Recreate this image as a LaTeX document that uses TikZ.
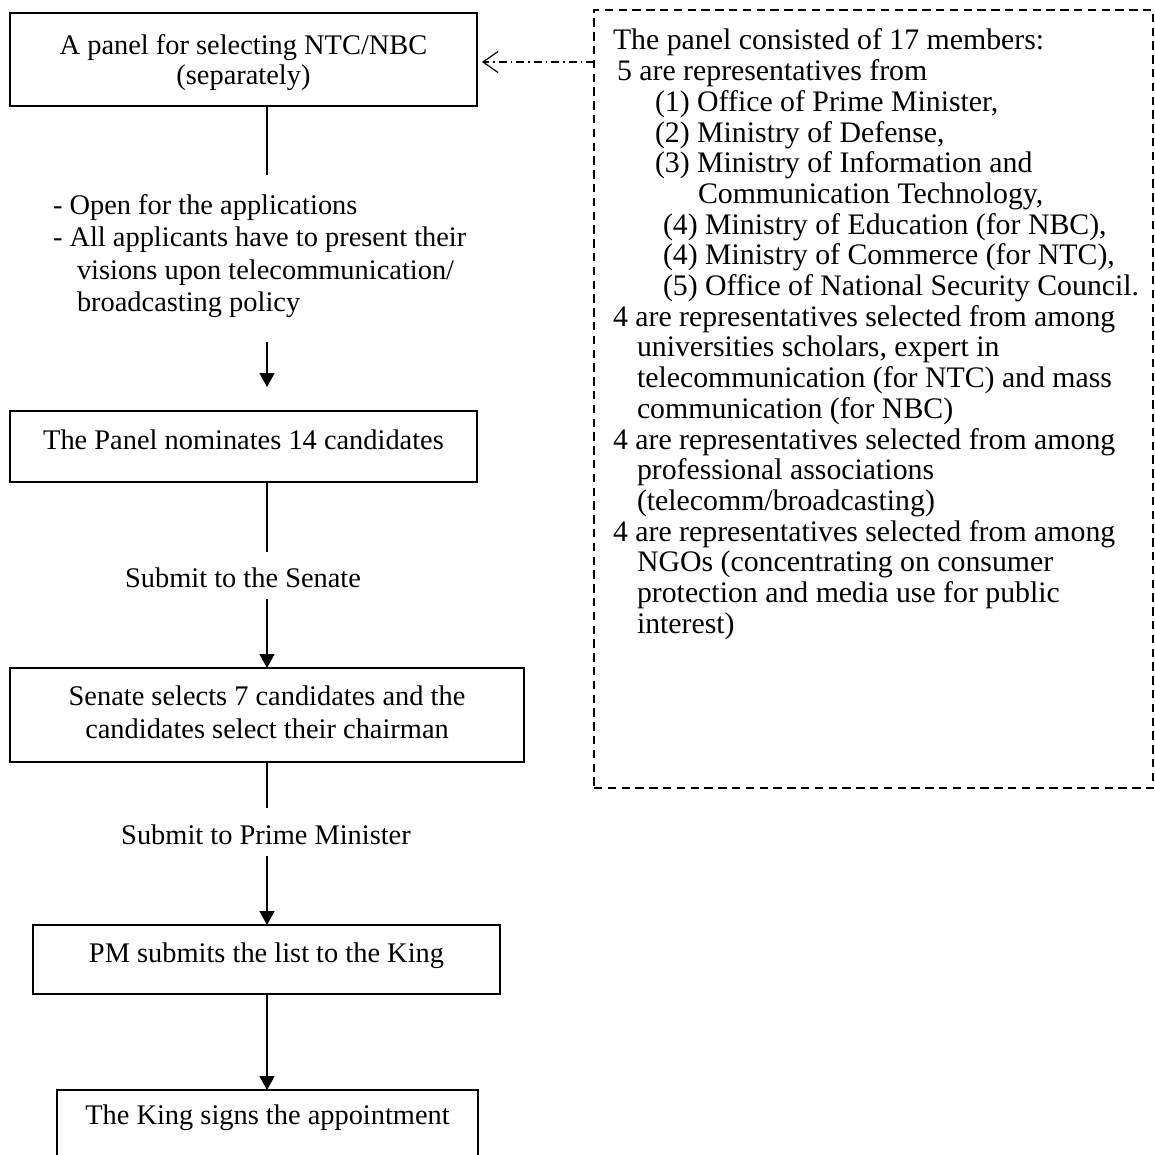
\documentclass[tikz,border=0pt]{standalone}
\usepackage{fontspec}
\setmainfont{Liberation Serif}
\usetikzlibrary{arrows.meta}
\begin{document}
\begin{tikzpicture}[x=1pt,y=-1pt,
  every node/.style={inner sep=0pt, outer sep=0pt},
  flowbox/.style={draw, line width=1.6pt, align=center,
    font=\fontsize{28.4}{32.5}\selectfont},
  oneline/.style={text height=19pt, text depth=13pt},
  link/.style={line width=1.6pt},
  flowarrow/.style={line width=1.6pt, -{Triangle[length=14pt,width=15pt]}},
  caption/.style={font=\fontsize{28.4}{32.5}\selectfont},
  notetext/.style={align=left, font=\fontsize{28.4}{32.5}\selectfont},
  memberbox/.style={draw, line width=1.6pt, dash pattern=on 8.4pt off 5.4pt},
  membertext/.style={align=left, font=\fontsize{29.8}{30.7}\selectfont},
  refline/.style={line width=1.2pt, dash pattern=on 8pt off 4pt on 1.5pt off 4pt,
    -{Straight Barb[length=15pt,width=21pt,line width=1.2pt]}, shorten >=5pt},
]
\useasboundingbox (0,0) rectangle (1155,1155);
\clip (0,0) rectangle (1155,1155);

% main flow axis
\coordinate (col) at (267,0);

% boxes of the selection procedure
\node[flowbox, font=\fontsize{28.4}{30}\selectfont, minimum width=467pt, minimum height=93pt]
  (panel) at (243.5,59.5)
  {\rule{0pt}{27pt}A panel for selecting NTC/NBC\\(separately)};
\node[flowbox, oneline, minimum width=467pt, minimum height=71pt] (nominate) at (243.5,446.5)
  {The Panel nominates 14 candidates};
\node[flowbox, minimum width=514pt, minimum height=94pt] (select) at (267,715)
  {Senate selects 7 candidates and the\\candidates select their chairman\rule[-6pt]{0pt}{6pt}};
\node[flowbox, oneline, minimum width=467pt, minimum height=69pt] (listking) at (266.5,959.5)
  {PM submits the list to the King};
\node[flowbox, anchor=north, minimum width=421pt, text height=34.5pt, text depth=60pt]
  (sign) at (267.5,1090) {The King signs the appointment};

% application step
\node[notetext, anchor=north west] (apply) at (53,191.5)
  {\strut- Open for the applications\\
   - All applicants have to present their\\
   \hspace*{24pt}visions upon telecommunication/\\
   \hspace*{24pt}broadcasting policy};
\coordinate (applyTop) at (267,175);
\coordinate (applyEnd) at (267,342);
\coordinate (applyTip) at (267,387);
\draw[link] (panel.south -| col) -- (applyTop);
\draw[flowarrow] (applyEnd) -- (applyTip);

% submit to the Senate
\coordinate (senateTop) at (267,552);
\coordinate (senateEnd) at (267,599);
\node[caption] (toSenate) at (243,578) {Submit to the Senate};
\draw[link] (nominate.south -| col) -- (senateTop);
\draw[flowarrow] (senateEnd) -- (select.north -| col);

% submit to the Prime Minister
\coordinate (pmTop) at (267,808);
\coordinate (pmEnd) at (267,856);
\node[caption] (toPM) at (266,835) {Submit to Prime Minister};
\draw[link] (select.south -| col) -- (pmTop);
\draw[flowarrow] (pmEnd) -- (listking.north -| col);

% to the King
\draw[flowarrow] (listking.south -| col) -- (sign.north -| col);

% panel membership
\node[memberbox, minimum width=559pt, minimum height=778pt] (council) at (873.5,399) {};
\node[membertext, anchor=north west] (members) at (613,28.5)
  {\strut The panel consisted of 17 members:\\
   \hspace*{4pt}5 are representatives from\\
   \hspace*{42pt}(1) Office of Prime Minister,\\
   \hspace*{42pt}(2) Ministry of Defense,\\
   \hspace*{42pt}(3) Ministry of Information and\\
   \hspace*{85pt}Communication Technology,\\
   \hspace*{50pt}(4) Ministry of Education (for NBC),\\
   \hspace*{50pt}(4) Ministry of Commerce (for NTC),\\
   \hspace*{50pt}(5) Office of National Security Council.\\
   4 are representatives selected from among\\
   \hspace*{24pt}universities scholars, expert in\\
   \hspace*{24pt}telecommunication (for NTC) and mass\\
   \hspace*{24pt}communication (for NBC)\\
   4 are representatives selected from among\\
   \hspace*{24pt}professional associations\\
   \hspace*{24pt}(telecomm/broadcasting)\\
   4 are representatives selected from among\\
   \hspace*{24pt}NGOs (concentrating on consumer\\
   \hspace*{24pt}protection and media use for public\\
   \hspace*{24pt}interest)};
\coordinate (noteTail) at (594,62);
\draw[refline] (noteTail) -- (panel.east |- noteTail);
\end{tikzpicture}
\end{document}
